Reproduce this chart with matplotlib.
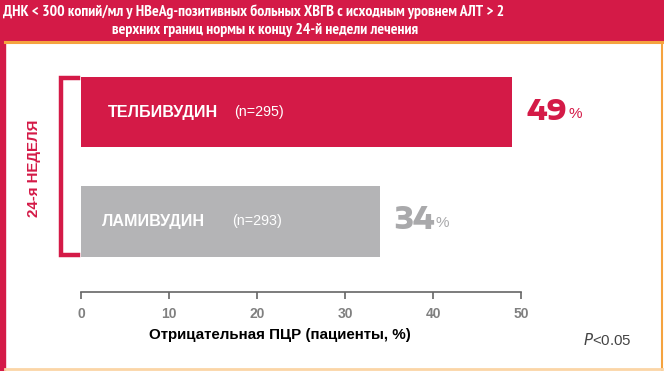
import numpy as np
import matplotlib
matplotlib.use("Agg")
from matplotlib import pyplot as plt
from matplotlib.lines import Line2D
from matplotlib.patches import Rectangle

# data
drugs = ['ТЕЛБИВУДИН', 'ЛАМИВУДИН']
n_labels = ['(n=295)', '(n=293)']
values = [49, 34]
x_ticks = [0, 10, 20, 30, 40, 50]

RED = '#D41A47'
GRAY_BAR = '#B4B4B6'
GRAY_VAL = '#A9A9AB'
ORANGE = '#F5A33F'
W, H = 664, 371

plt.rcParams['font.family'] = ['Liberation Sans', 'DejaVu Sans']

fig = plt.figure(figsize=(W / 100, H / 100), dpi=100)

def px(x, y):
    # pixel from top-left -> figure fraction
    return x / W, 1 - y / H

# frame: red header, left red strip, orange border
fig.patches.append(Rectangle((0, 1 - 41 / H), 1, 41 / H, transform=fig.transFigure,
                             color=RED, zorder=0))
fig.patches.append(Rectangle((0, 0), 5 / W, 1, transform=fig.transFigure,
                             color=RED, zorder=0))
fig.lines.append(Line2D([5 / W, 1], [1 - 42 / H] * 2, transform=fig.transFigure,
                        color=ORANGE, lw=2.2))
fig.lines.append(Line2D([662 / W] * 2, [1 - 42 / H, 0], transform=fig.transFigure,
                        color=ORANGE, lw=1.5))
fig.lines.append(Line2D([5 / W, 662 / W], [1 - 369 / H] * 2, transform=fig.transFigure,
                        color='#FBD5A6', lw=2))

narrow = ['PT Sans Narrow', 'Roboto Condensed', 'Liberation Sans', 'DejaVu Sans']
title1 = 'ДНК < 300 копий/мл у HBeAg-позитивных больных ХВГВ с исходным уровнем АЛТ > 2'
title2 = 'верхних границ нормы к концу 24-й недели лечения'
t1 = fig.text(*px(3, 12), title1, color='white', fontsize=11.5, fontweight='bold',
              family=narrow, ha='left', va='center')
t2 = fig.text(*px(265, 30), title2, color='white', fontsize=11.5, fontweight='bold',
              family=narrow, ha='center', va='center')

# axes: x 0..50 maps to pixels 81..521, bottom spine at y=292
ax = fig.add_axes([81 / W, 1 - 292 / H, 440 / W, 232 / H])
ypos = np.array([1, 0])
ax.barh(ypos, values, height=0.64, color=[RED, GRAY_BAR], zorder=2)
ax.set_xlim(0, 50)
ax.set_ylim(-0.644, 1.475)
ax.set_xticks(x_ticks)
ax.set_yticks([])
for s in ['top', 'right', 'left']:
    ax.spines[s].set_visible(False)
ax.spines['bottom'].set_color('#666666')
ax.spines['bottom'].set_linewidth(1.2)
ax.tick_params(axis='x', colors='#666666', length=5, width=1.2, pad=6,
               labelsize=10, labelcolor='#808080')
for lab in ax.get_xticklabels():
    lab.set_fontweight('bold')
ax.patch.set_alpha(0)

wide = ['Encode Sans Expanded', 'DejaVu Sans']
name_off = [27, 21]
n_off = [153, 151]
val_colors = [RED, GRAY_VAL]
val_texts = []
for i, (y, v) in enumerate(zip(ypos, values)):
    ax.annotate(drugs[i], (0, y), xytext=(name_off[i], 0), textcoords='offset pixels',
                color='white', fontsize=11.6, fontweight='bold', ha='left', va='center')
    ax.annotate(n_labels[i], (0, y), xytext=(n_off[i], 0), textcoords='offset pixels',
                color='white', fontsize=10.3, ha='left', va='center')
    vt = ax.annotate(str(v), (v, y), xytext=(14, 1), textcoords='offset pixels',
                     color=val_colors[i], fontsize=15, fontweight='heavy',
                     family=wide, ha='left', va='center', annotation_clip=False)
    val_texts.append((vt, v, y, val_colors[i]))

# bracket
bx = [78 / W, 61 / W, 61 / W, 78 / W]
by = [1 - 78 / H, 1 - 78 / H, 1 - 255 / H, 1 - 255 / H]
fig.lines.append(Line2D(bx, by, transform=fig.transFigure, color=RED, lw=3.2,
                        solid_joinstyle='miter'))
fig.text(*px(34, 168), '24-я НЕДЕЛЯ', color=RED, fontsize=10.8, fontweight='bold',
         rotation=90, ha='center', va='center')

fig.text(*px(280, 335), 'Отрицательная ПЦР (пациенты, %)', color='black',
         fontsize=10.9, fontweight='bold', ha='center', va='center')
fig.text(*px(583, 340), '$P$<0.05', color='#444444', fontsize=10.8,
         ha='left', va='center', math_fontfamily='custom')

# fit header lines and big values to the widths seen in the reference
r = fig.canvas.get_renderer()
for t, target in [(t1, 501), (t2, 305)]:
    w = t.get_window_extent(r).width
    t.set_fontsize(t.get_fontsize() * target / w)

for vt, v, y, c in val_texts:
    w = vt.get_window_extent(r).width
    vt.set_fontsize(min(vt.get_fontsize() * 41 / w, 22))
    w = vt.get_window_extent(r).width
    ax.annotate('%', (v, y), xytext=(14 + w + 1, -2), textcoords='offset pixels',
                color=c, fontsize=11, ha='left', va='center', annotation_clip=False)

fig.savefig('out.png', dpi=100)
